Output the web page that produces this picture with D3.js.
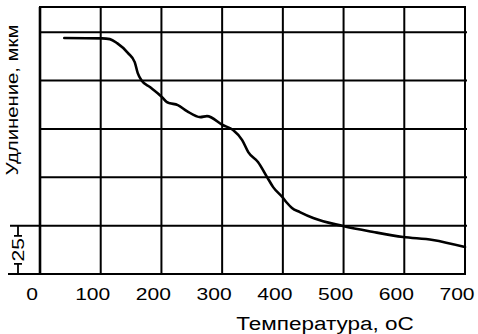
<!DOCTYPE html>
<html>
<head>
<meta charset="utf-8">
<script src="https://cdn.jsdelivr.net/npm/d3@7"></script>
<style>
  body { margin: 0; background: #fff; }
  text { font-family: "Liberation Sans", Arial, sans-serif; fill: #000; }
</style>
</head>
<body>
<div id="chart"></div>
<script>
// curve: temperature (oC) vs elongation (um, from bottom line)
var temperature = [40, 102, 115, 127, 145, 156, 161, 168, 181, 201, 209, 214, 227, 242, 264, 275, 301, 318, 333, 343, 359, 374, 384, 399, 407, 415, 428, 450, 499, 549, 598, 647, 700];
var elongation  = [122, 121.8, 121.4, 119.3, 114.2, 109.5, 103.8, 99.7, 96.6, 91.4, 88.8, 88.3, 87.3, 84.2, 81.1, 81.6, 77, 74.4, 69.2, 63, 57.9, 50.1, 44.9, 39.8, 36.7, 34.1, 32, 28.9, 24.8, 21.7, 19.1, 17.6, 13.9];
var xTicks = [0, 100, 200, 300, 400, 500, 600, 700];
var yGrid = [25, 50, 75, 100, 125];
var scaleLabel = "25";
var xTitle = "Температура, оС";
var yTitle = "Удлинение, мкм";

function draw_chart(lugar)
{
  "use strict";

  var width = 478,
    height = 334;

  var svg = d3.select(lugar)
    .append("svg")
      .attr("width", width)
      .attr("height", height);

  var x = d3.scaleLinear().domain([0, 700]).range([40, 465]);
  var y = d3.scaleLinear().domain([0, 138]).range([274, 7]);

  var grid = svg.append("g")
    .attr("stroke", "#000")
    .attr("stroke-width", 2)
    .attr("fill", "none");

  // vertical grid
  grid.selectAll("line.v")
    .data(xTicks.slice(1, -1))
    .enter().append("line")
      .attr("class", "v")
      .attr("x1", function(d){ return x(d); })
      .attr("x2", function(d){ return x(d); })
      .attr("y1", y(138))
      .attr("y2", y(0));

  // horizontal grid
  grid.selectAll("line.h")
    .data(yGrid)
    .enter().append("line")
      .attr("class", "h")
      .attr("x1", function(d){ return d === 25 ? 10 : x(0); })
      .attr("x2", x(700) + 2)
      .attr("y1", function(d){ return y(d); })
      .attr("y2", function(d){ return y(d); });

  // frame
  grid.append("rect")
    .attr("x", x(0))
    .attr("y", y(138))
    .attr("width", x(700) - x(0))
    .attr("height", y(0) - y(138));
  grid.append("line")
    .attr("x1", x(0)).attr("x2", x(0))
    .attr("y1", y(138)).attr("y2", y(0))
    .attr("stroke-width", 2.6);
  grid.append("line")
    .attr("x1", 8).attr("x2", x(0))
    .attr("y1", y(0)).attr("y2", y(0));

  // 25 um dimension mark
  var bx = 18;
  var mid = (y(0) + y(25)) / 2;
  grid.append("path")
    .attr("stroke-width", 1.8)
    .attr("d",
      "M" + bx + "," + y(25) + "V" + (mid - 14) +
      "M" + (bx - 4) + "," + (mid - 14) + "H" + (bx + 4) +
      "M" + bx + "," + (mid + 14) + "V" + y(0) +
      "M" + (bx - 4) + "," + (mid + 14) + "H" + (bx + 4));

  svg.append("text")
    .attr("transform", "translate(" + (bx + 6) + "," + mid + ") rotate(-90) scale(1.24,1)")
    .attr("text-anchor", "middle")
    .style("font-size", "17px")
    .text(scaleLabel);

  // curve
  var points = temperature.map(function(t, i){ return [t, elongation[i]]; });
  var line = d3.line()
    .x(function(d){ return x(d[0]); })
    .y(function(d){ return y(d[1]); })
    .curve(d3.curveMonotoneX);

  svg.append("path")
    .datum(points)
    .attr("d", line)
    .attr("fill", "none")
    .attr("stroke", "#000")
    .attr("stroke-width", 2.6)
    .attr("stroke-linejoin", "round")
    .attr("stroke-linecap", "round");

  // x tick labels (sit a little left of their grid lines, as in the scan)
  svg.append("g")
    .selectAll("text")
    .data(xTicks)
    .enter().append("text")
      .attr("transform", function(d){ return "translate(" + (x(d) - 8) + ",300) scale(1.24,1)"; })
      .attr("text-anchor", "middle")
      .style("font-size", "17px")
      .text(function(d){ return d; });

  svg.append("text")
    .attr("transform", "translate(325,330) scale(1.25,1)")
    .attr("text-anchor", "middle")
    .style("font-size", "18px")
    .text(xTitle);

  svg.append("text")
    .attr("transform", "translate(18,100) rotate(-90) scale(1.27,1)")
    .attr("text-anchor", "middle")
    .style("font-size", "16px")
    .text(yTitle);
}

draw_chart("#chart");
</script>
</body>
</html>
